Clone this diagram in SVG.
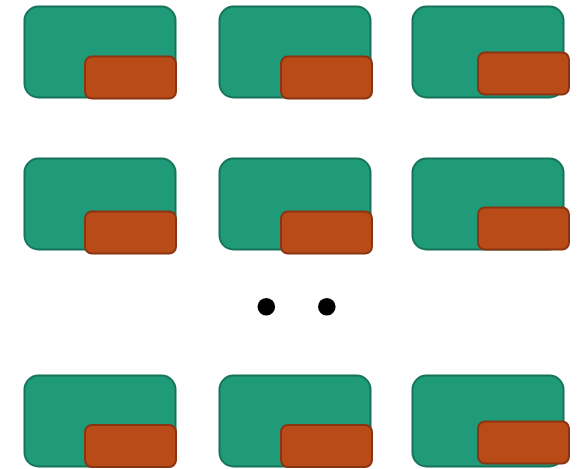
<svg xmlns="http://www.w3.org/2000/svg" width="585" height="469" viewBox="0 0 585 469">
<style>
.g{fill:#1f9b7a;stroke:#17745a;stroke-width:2}
.o{fill:#b94b18;stroke:#8a3412;stroke-width:2}
.d{fill:#000}
</style>
<rect width="585" height="469" fill="#fff"/>
<g id="n11"><rect class="g" x="24.5" y="6.5" width="151" height="91" rx="14"/><rect class="o" x="85" y="56.5" width="91" height="42" rx="7"/></g>
<g id="n12"><rect class="g" x="219.5" y="6.5" width="151" height="91" rx="14"/><rect class="o" x="281" y="56.5" width="91" height="42" rx="7"/></g>
<g id="n13"><rect class="g" x="412.5" y="6.5" width="151" height="91" rx="14"/><rect class="o" x="478" y="52.5" width="91" height="42" rx="7"/></g>
<g id="n21"><rect class="g" x="24.5" y="158.5" width="151" height="91" rx="14"/><rect class="o" x="85" y="211.5" width="91" height="42" rx="7"/></g>
<g id="n22"><rect class="g" x="219.5" y="158.5" width="151" height="91" rx="14"/><rect class="o" x="281" y="211.5" width="91" height="42" rx="7"/></g>
<g id="n23"><rect class="g" x="412.5" y="158.5" width="151" height="91" rx="14"/><rect class="o" x="478" y="207.5" width="91" height="42" rx="7"/></g>
<g id="dots"><circle class="d" cx="266.3" cy="306.8" r="8.8"/><circle class="d" cx="326.8" cy="306.8" r="8.8"/></g>
<g id="n31"><rect class="g" x="24.5" y="375.5" width="151" height="91" rx="14"/><rect class="o" x="85" y="425" width="91" height="42" rx="7"/></g>
<g id="n32"><rect class="g" x="219.5" y="375.5" width="151" height="91" rx="14"/><rect class="o" x="281" y="425" width="91" height="42" rx="7"/></g>
<g id="n33"><rect class="g" x="412.5" y="375.5" width="151" height="91" rx="14"/><rect class="o" x="478" y="421.5" width="91" height="42" rx="7"/></g>
<g id="connectors"/>
</svg>
